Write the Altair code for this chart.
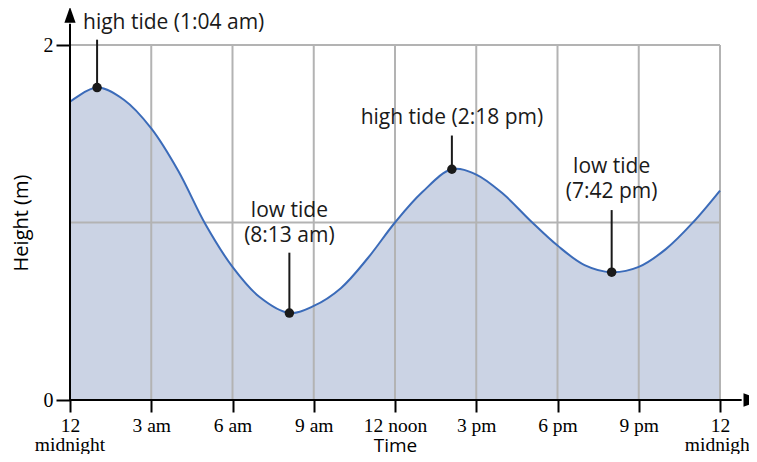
import altair as alt
import pandas as pd

# Tide curve (hours since midnight, height in m)
hours = [0, 1.0, 2, 3, 4, 5, 6, 7, 8.1, 9, 10, 11, 12, 13, 14.1, 15, 16, 17, 18, 19, 20.0, 21, 22, 23, 24]
heights = [1.68, 1.76, 1.69, 1.53, 1.29, 0.99, 0.75, 0.58, 0.49, 0.53, 0.63, 0.80, 1.00, 1.17, 1.30, 1.27, 1.16, 1.01, 0.87, 0.76, 0.72, 0.75, 0.85, 1.00, 1.18]

# Tide extremes
ext_hours = [1.0, 8.1, 14.1, 20.0]
ext_heights = [1.76, 0.49, 1.30, 0.72]
ext_line_top = [2.03, 0.83, 1.49, 1.07]

# Annotation text (x, y in data units)
ann_text = ["high tide (1:04 am)", "low tide", "(8:13 am)", "high tide (2:18 pm)", "low tide", "(7:42 pm)"]
ann_x = [0.48, 8.1, 8.1, 14.1, 20.0, 20.0]
ann_y = [2.125, 1.063, 0.922, 1.59, 1.31, 1.17]
ann_align = ["left", "center", "center", "center", "center", "center"]

x_ticks = [0, 3, 6, 9, 12, 15, 18, 21, 24]
x_grid = [3, 6, 9, 12, 15, 18, 21, 24]
y_ticks = [0, 1, 2]
y_grid = [1, 2]
midnight_at = [0, 24]

curve = pd.DataFrame({"t": hours, "h": heights})
ext = pd.DataFrame({"t": ext_hours, "h": ext_heights, "top": ext_line_top})
ann = pd.DataFrame({"text": ann_text, "t": ann_x, "h": ann_y, "align": ann_align})
xg = pd.DataFrame({"t": x_grid})
yg = pd.DataFrame({"h": y_grid})
mid = pd.DataFrame({"t": midnight_at, "text": ["midnight", "midnight"]})

xs = alt.Scale(domain=[0, 24], nice=False, zero=False)
ys = alt.Scale(domain=[0, 2], nice=False)

x_label_expr = ("datum.value == 0 || datum.value == 24 ? '12' : "
                "datum.value == 12 ? '12 noon' : "
                "datum.value < 12 ? datum.value + ' am' : (datum.value - 12) + ' pm'")

x_axis = alt.Axis(values=x_ticks, labelExpr=x_label_expr, grid=False, domain=False,
                  tickColor="black", tickWidth=2, tickSize=12, labelPadding=4,
                  labelFont="Liberation Serif", labelFontSize=19.5, labelColor="black",
                  labelFlush=False,
                  title="Time", titleFont="Open Sans", titleFontSize=19,
                  titleFontWeight="normal", titleColor="black",
                  titleY=51, titleBaseline="alphabetic")
y_axis = alt.Axis(values=y_ticks, format="d", grid=False, domain=False, tickColor="black",
                  tickWidth=2, tickSize=14, labelPadding=3,
                  labelFont="Liberation Serif", labelFontSize=20, labelColor="black",
                  title="Height (m)", titleFont="Open Sans", titleFontSize=20,
                  titleFontWeight="normal", titleColor="black",
                  titleX=-49, titleBaseline="middle")

area = alt.Chart(curve).mark_area(interpolate="catmull-rom", color="#cbd3e4", opacity=1).encode(
    x=alt.X("t:Q", scale=xs, axis=x_axis),
    y=alt.Y("h:Q", scale=ys, axis=y_axis),
)

xgrid = alt.Chart(xg).mark_rule(color="#b3b3b3", strokeWidth=2).encode(
    x=alt.X("t:Q", scale=xs), y=alt.datum(0), y2=alt.datum(2))
ygrid = alt.Chart(yg).mark_rule(color="#b3b3b3", strokeWidth=2).encode(
    y=alt.Y("h:Q", scale=ys), x=alt.datum(0), x2=alt.datum(24))

line = alt.Chart(curve).mark_line(interpolate="catmull-rom", color="#3b6bb9", strokeWidth=2).encode(
    x=alt.X("t:Q", scale=xs), y=alt.Y("h:Q", scale=ys))

# axis lines with arrows
yaxis_line = alt.Chart(pd.DataFrame({"a": [0]})).mark_rule(color="black", strokeWidth=2).encode(
    x=alt.datum(0), y=alt.datum(0), y2=alt.datum(2.12))
xaxis_line = alt.Chart(pd.DataFrame({"a": [0]})).mark_rule(color="black", strokeWidth=2).encode(
    y=alt.datum(0), x=alt.datum(0), x2=alt.datum(24.8))
y_arrow = alt.Chart(pd.DataFrame({"a": [0]})).mark_point(
    shape="M0,-1L0.7,1L-0.7,1Z", size=256, filled=True, color="black", opacity=1).encode(
    x=alt.datum(0), y=alt.datum(2.17))
x_arrow = alt.Chart(pd.DataFrame({"a": [0]})).mark_point(
    shape="M1,0L-1,0.75L-1,-0.75Z", size=324, filled=True, color="black", opacity=1).encode(
    x=alt.datum(25.2), y=alt.datum(0))

midnight = alt.Chart(mid).mark_text(font="Liberation Serif", fontSize=19.5, color="black",
                                    baseline="alphabetic", align="center").encode(
    x=alt.X("t:Q", scale=xs), y=alt.value(406), text="text:N")

ext_rules = alt.Chart(ext).mark_rule(color="#1a1a1a", strokeWidth=2).encode(
    x=alt.X("t:Q", scale=xs), y=alt.Y("h:Q", scale=ys), y2="top:Q")
ext_dots = alt.Chart(ext).mark_point(filled=True, color="#1a1a1a", size=90, opacity=1).encode(
    x=alt.X("t:Q", scale=xs), y=alt.Y("h:Q", scale=ys))

texts = []
for al in ["left", "center"]:
    texts.append(alt.Chart(ann[ann["align"] == al]).mark_text(
        align=al, baseline="middle", font="Open Sans", fontSize=21, color="#1a1a1a").encode(
        x=alt.X("t:Q", scale=xs), y=alt.Y("h:Q", scale=ys), text="text:N"))

chart = alt.layer(area, xgrid, ygrid, line, yaxis_line, xaxis_line, y_arrow, x_arrow,
                  midnight, ext_rules, ext_dots, *texts).properties(
    width=650, height=355,
    autosize=alt.AutoSizeParams(type="none"),
    padding={"left": 62, "top": 37, "right": 29, "bottom": 54},
).configure_view(stroke=None).configure(background="white")

chart.save("out.html", embed_options={"renderer": "svg", "actions": False})
